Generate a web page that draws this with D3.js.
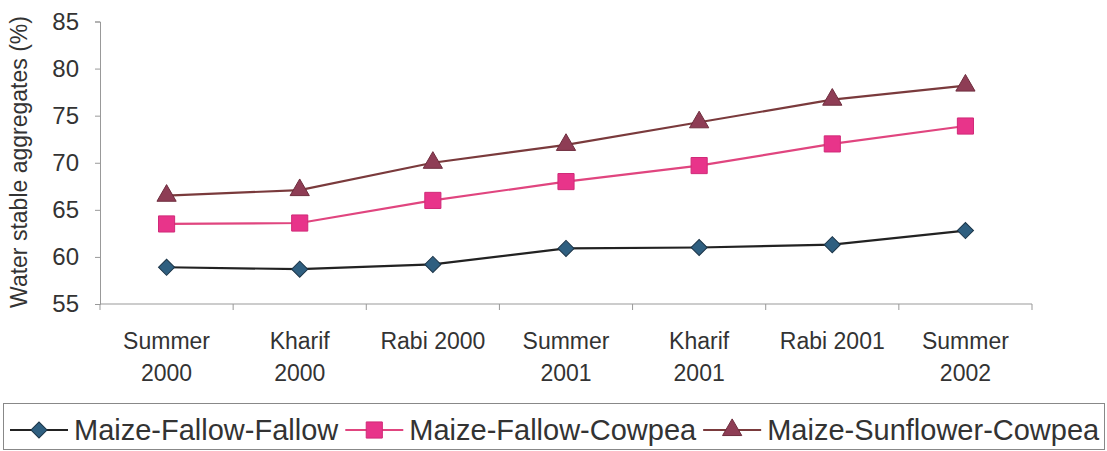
<!DOCTYPE html>
<meta charset="utf-8">
<style>
body { margin: 0; background: #fff; }
svg { display: block; }
text { font-family: "Liberation Sans", Arial, sans-serif; fill: #333; }
</style>
<svg id="chart" width="1107" height="451"></svg>
<script src="https://d3js.org/d3.v7.min.js"></script>
<script>
// categories (two-line labels)
var seasons = ["Summer 2000", "Kharif 2000", "Rabi 2000", "Summer 2001", "Kharif 2001", "Rabi 2001", "Summer 2002"];
var seasonLines = [["Summer", "2000"], ["Kharif", "2000"], ["Rabi 2000"], ["Summer", "2001"], ["Kharif", "2001"], ["Rabi 2001"], ["Summer", "2002"]];
var seriesNames = ["Maize-Fallow-Fallow", "Maize-Fallow-Cowpea", "Maize-Sunflower-Cowpea"];
var mff = [58.9, 58.7, 59.2, 60.9, 61.0, 61.3, 62.8];
var mfc = [63.5, 63.6, 66.0, 68.0, 69.7, 72.0, 73.9];
var msc = [66.5, 67.1, 70.0, 71.9, 74.3, 76.7, 78.2];
var yTicks = [55, 60, 65, 70, 75, 80, 85];

var svg = d3.select("#chart");
var plotL = 100, plotR = 1032, plotT = 21.5, plotB = 304;

var x = d3.scaleBand().domain(seasons).range([plotL, plotR]);
var y = d3.scaleLinear().domain([55, 85]).range([plotB, plotT]);

// diamond = square turned 45 degrees
var styles = [
  { line: "#222", fill: "#2f5f80", stroke: "#1c3548", shape: d3.symbolSquare, size: 130, rot: 45 },
  { line: "#e0457f", fill: "#e8348a", stroke: "#d02a78", shape: d3.symbolSquare, size: 260, rot: 0 },
  { line: "#7a3a3c", fill: "#8e3d55", stroke: "#6e2d3d", shape: d3.symbolTriangle, size: 160, rot: 0 }
];
var series = [mff, mfc, msc];

// y axis
var yAxis = svg.append("g").attr("transform", "translate(" + plotL + ",0)")
  .call(d3.axisLeft(y).tickValues(yTicks).tickSize(5).tickPadding(16));
yAxis.select(".domain").attr("stroke", "#999");
yAxis.selectAll(".tick line").attr("stroke", "#999");
yAxis.selectAll(".tick text").attr("font-size", 24).attr("fill", "#333")
  .style("font-family", "Liberation Sans, Arial, sans-serif");

// x axis (ticks at category boundaries)
var xAxis = svg.append("g").attr("transform", "translate(0," + plotB + ")");
xAxis.append("line").attr("x1", plotL).attr("x2", plotR).attr("stroke", "#999");
xAxis.selectAll(".bt").data(seasons.concat([null])).enter().append("line")
  .attr("x1", function (d, i) { return plotL + i * x.bandwidth(); })
  .attr("x2", function (d, i) { return plotL + i * x.bandwidth(); })
  .attr("y1", 0).attr("y2", 6).attr("stroke", "#999");
var xl = xAxis.selectAll(".xl").data(seasons).enter().append("text")
  .attr("text-anchor", "middle").attr("font-size", 23)
  .attr("transform", function (d) { return "translate(" + (x(d) + x.bandwidth() / 2) + ",0)"; });
xl.each(function (d, i) {
  var t = d3.select(this);
  seasonLines[i].forEach(function (s, j) {
    t.append("tspan").attr("x", 0).attr("y", 45 + j * 32).text(s);
  });
});

// y title
svg.append("text")
  .attr("transform", "translate(27,162)rotate(-90)")
  .attr("text-anchor", "middle").attr("font-size", 23)
  .text("Water stable aggregates (%)");

// lines and markers
var line = d3.line()
  .x(function (d, i) { return x(seasons[i]) + x.bandwidth() / 2; })
  .y(function (d) { return y(d); });

series.forEach(function (vals, k) {
  var st = styles[k];
  svg.append("path").datum(vals).attr("d", line)
    .attr("fill", "none").attr("stroke", st.line).attr("stroke-width", 2.2);
  svg.selectAll(".m" + k).data(vals).enter().append("path")
    .attr("d", d3.symbol().type(st.shape).size(st.size))
    .attr("transform", function (d, i) {
      return "translate(" + (x(seasons[i]) + x.bandwidth() / 2) + "," + y(d) + ")rotate(" + st.rot + ")";
    })
    .attr("fill", st.fill).attr("stroke", st.stroke).attr("stroke-width", 1);
});

// legend
var lg = svg.append("g");
lg.append("rect").attr("x", 3.5).attr("y", 403.5).attr("width", 1101).attr("height", 46)
  .attr("fill", "none").attr("stroke", "#888");
var lx = 10, ly = 430;
seriesNames.forEach(function (name, k) {
  var st = styles[k];
  lg.append("line").attr("x1", lx).attr("x2", lx + 58).attr("y1", ly).attr("y2", ly)
    .attr("stroke", st.line).attr("stroke-width", 2);
  lg.append("path").attr("d", d3.symbol().type(st.shape).size(st.size))
    .attr("transform", "translate(" + (lx + 29) + "," + ly + ")rotate(" + st.rot + ")")
    .attr("fill", st.fill).attr("stroke", st.stroke);
  var t = lg.append("text").attr("x", lx + 64).attr("y", ly + 10)
    .attr("font-size", 29).text(name);
  lx = lx + 64 + t.node().getComputedTextLength() + 7;
});
</script>
